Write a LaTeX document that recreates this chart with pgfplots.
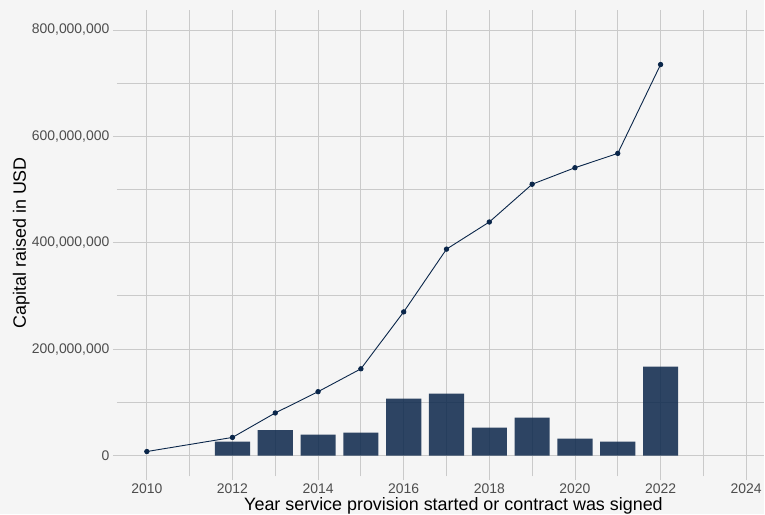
\documentclass[border=0pt]{standalone}
\usepackage{pgfplots}
\pgfplotsset{compat=1.18}
\usepackage{fontspec}
\setmainfont{Liberation Sans}
\definecolor{bg}{HTML}{F5F5F5}
\definecolor{gridc}{HTML}{CACACA}
\definecolor{navy}{RGB}{10,38,74}
\definecolor{ticktext}{HTML}{4D4D4D}
\begin{document}
\begin{tikzpicture}[x=1bp,y=1bp]
\fill[bg] (-117,-38) rectangle (648,477);
\begin{axis}[
  at={(0,0)}, anchor=south west,
  scale only axis, width=648bp, height=467bp,
  xmin=2009.3, xmax=2024.42, ymin=-39.4, ymax=837.6,
  axis line style={draw=none},
  xtick={2010,2012,2014,2016,2018,2020,2022,2024},
  xticklabels={2010,2012,2014,2016,2018,2020,2022,2024},
  minor xtick={2011,2013,2015,2017,2019,2021,2023},
  ytick={0,200,400,600,800},
  yticklabels={0,{200,000,000},{400,000,000},{600,000,000},{800,000,000}},
  minor ytick={100,300,500,700},
  grid=both,
  major grid style={gridc, line width=0.9bp},
  minor grid style={gridc, line width=0.9bp},
  xtick pos=bottom, ytick pos=left,
  tick align=outside,
  major tick length=4bp, minor tick length=0pt,
  tick style={gridc, line width=0.9bp},
  x tick label style={font=\fontsize{14}{14}\selectfont, text=ticktext},
  y tick label style={font=\fontsize{14}{14}\selectfont, text=ticktext},
  clip=false,
]
\addplot[ybar, bar width=0.82, fill=navy, fill opacity=0.85, draw=none] coordinates {
 (2012,26.3) (2013,47.5) (2014,39.4) (2015,43.2) (2016,107) (2017,116.4)
 (2018,52.6) (2019,71.4) (2020,31.9) (2021,26.3) (2022,167)
};
\addplot[navy, line width=0.9bp, mark=*, mark size=2.2bp, mark options={fill=navy}] coordinates {
 (2010,7.5) (2012,34) (2013,80) (2014,120) (2015,163) (2016,270) (2017,388)
 (2018,439) (2019,510) (2020,541) (2021,568) (2022,735)
};
\end{axis}
\node[font=\fontsize{18}{18}\selectfont, anchor=base, inner sep=0pt] at (337,-34) {Year service provision started or contract was signed};
\node[font=\fontsize{18}{18}\selectfont, rotate=90, anchor=base, inner sep=0pt] at (-91,234) {Capital raised in USD};
\end{tikzpicture}
\end{document}
